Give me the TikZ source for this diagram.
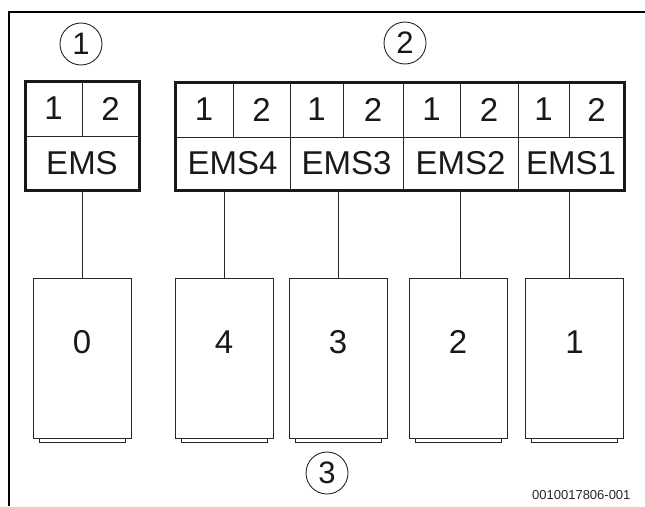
\documentclass[tikz,border=0pt]{standalone}
\usepackage{fontspec}
\setmainfont{Liberation Sans}
\begin{document}
\begin{tikzpicture}[x=1pt,y=-1pt,
  thinline/.style={line width=1pt, draw=black!85},
  thickline/.style={line width=3pt, draw=black!90},
  cell/.style={thinline, inner sep=0pt, outer sep=0pt, font=\fontsize{33}{38}\selectfont, text=black!90},
  unit/.style={thinline, inner sep=0pt, outer sep=0pt, minimum width=98pt, minimum height=160pt},
  foot/.style={thinline, inner sep=0pt, outer sep=0pt, minimum width=86pt, minimum height=4pt},
  numlbl/.style={font=\fontsize{33}{38}\selectfont, text=black!90},
  callout/.style={circle, draw=black!85, line width=0.9pt, minimum size=42pt, inner sep=0pt, font=\fontsize{31}{36}\selectfont, text=black!90},
  idtext/.style={font=\fontsize{13}{15}\selectfont, text=black!85, anchor=east}
]
\useasboundingbox (0,0) rectangle (645,506);
% frame corner
\draw[line width=2.5pt] (9,506) -- (9,12) -- (645,12);

% callouts
\node[callout] (c1) at (81,44) {1};
\node[callout] (c2) at (405,43) {2};
\node[callout] (c3) at (327,473) {3};

% left EMS box
\node[cell, minimum width=57pt, minimum height=55pt] (L1) at (53.5,108.5) {1};
\node[cell, minimum width=57pt, minimum height=55pt] (L2) at (110.5,108.5) {2};
\node[cell, minimum width=114pt, minimum height=54pt] (LE) at (82,163) {EMS};
\draw[thickline] (L1.north west) rectangle (LE.south east);

% right EMS box
\foreach \xa/\xb/\t/\nm in {175/233/1/a1,233/290/2/a2,290/343/1/b1,343/403/2/b2,403/460/1/c1,460/518/2/c2,518/569/1/d1,569/624/2/d2}{
  \node[cell, minimum width={(\xb-\xa)*1pt}, minimum height=55pt] (R\nm) at ({(\xa+\xb)/2},109.5) {\t};
}
\node[cell, minimum width=115pt, minimum height=53pt] (E4) at (232.5,163.5) {EMS4};
\node[cell, minimum width=113pt, minimum height=53pt] (E3) at (346.5,163.5) {EMS3};
\node[cell, minimum width=115pt, minimum height=53pt] (E2) at (460.5,163.5) {EMS2};
\node[cell, minimum width=106pt, minimum height=53pt] (E1) at (571,163.5) {EMS1};
\draw[thickline] (Ra1.north west) rectangle (E1.south east);

% bottom units
\node[unit, label={[numlbl, yshift=16pt]center:0}] (B0) at (82,358) {};
\node[unit, label={[numlbl, yshift=16pt]center:4}] (B4) at (224,358) {};
\node[unit, label={[numlbl, yshift=16pt]center:3}] (B3) at (338,358) {};
\node[unit, label={[numlbl, yshift=16pt]center:2}] (B2) at (458,358) {};
\node[unit, label={[numlbl, yshift=16pt]center:1}] (B1) at (574.5,358) {};
\foreach \b in {B0,B4,B3,B2,B1}{
  \node[foot, anchor=north] (F\b) at (\b.south) {};
}

% connectors
\draw[thinline] (B0.north) -- (B0.north |- LE.south);
\draw[thinline] (B4.north) -- (B4.north |- E4.south);
\draw[thinline] (B3.north) -- (B3.north |- E3.south);
\draw[thinline] ([xshift=2pt]B2.north) -- ([xshift=2pt]B2.north |- E2.south);
\draw[thinline] ([xshift=-5.5pt]B1.north) -- ([xshift=-5.5pt]B1.north |- E1.south);

\node[idtext] (id) at (634,495) {0010017806-001};
\end{tikzpicture}
\end{document}
